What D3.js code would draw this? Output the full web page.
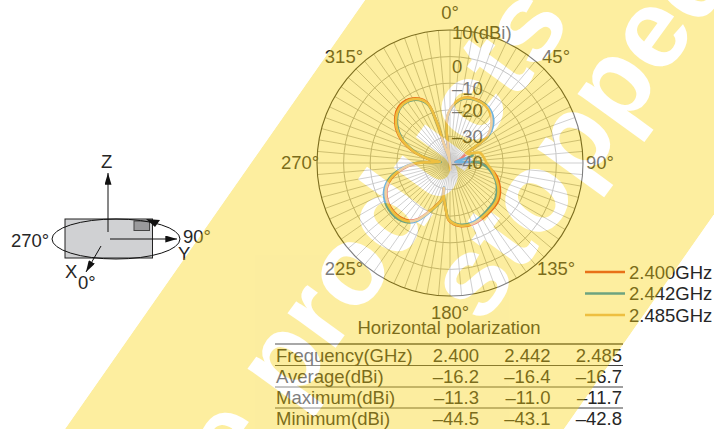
<!DOCTYPE html>
<html>
<head>
<meta charset="utf-8">
<script src="https://cdnjs.cloudflare.com/ajax/libs/d3/7.8.5/d3.min.js"></script>
<style>
	body { margin: 0; background: #fff; }
	svg { display: block; font-family: "Liberation Sans", sans-serif; }
	text { fill: #262626; font-size: 18.5px; }
</style>
</head>
<body>
<div id="chart"></div>
<script>
//Data: angle in degrees (clockwise from top), gain in dBi
var angles   = [178, 354, 354, 358, 5, 12, 23, 34, 45, 54, 57, 60, 71, 80, 90, 103, 116, 128, 144, 159, 171, 181, 186, 192, 194, 192, 200, 210, 217, 229, 243, 253, 262, 270, 272, 276, 280, 288, 298, 309, 319, 330, 339, 342, 342, 350];
var gain2400 = [-38, -34.2, -27.8, -21.5, -17.4, -15.0, -14.2, -14.8, -17.6, -22.2, -27.4, -33, -36, -38, -28.6, -22.8, -19.2, -17.0, -16.2, -15.5, -16.0, -18.4, -23.4, -28.0, -30.2, -26.4, -22.2, -15.6, -13.1, -12.0, -13.2, -16.1, -21.4, -27.8, -33.5, -36, -32.0, -25.2, -18.3, -13.5, -11.3, -12.0, -15.5, -23.3, -32, -38.6];
var gain2442 = [-38, -34, -27.6, -21.6, -17.5, -15.2, -14.4, -14.5, -17.0, -21.8, -27.6, -31.5, -31, -38, -28.6, -23.8, -20.4, -18.3, -17.2, -16.1, -16.5, -18.8, -23.7, -28.5, -30.6, -26.0, -21.7, -14.8, -12.2, -11.0, -12.2, -15.2, -20.6, -27.2, -33.6, -36.5, -32.6, -26.0, -19.2, -14.3, -12.0, -12.6, -16.2, -24.0, -32.4, -38.6];
var gain2485 = [-37.5, -33.9, -27.5, -21.3, -17.2, -14.9, -14.3, -14.9, -17.9, -22.5, -27.8, -33.1, -28.1, -27.2, -26.2, -23.2, -19.8, -17.6, -16.6, -15.7, -16.2, -18.6, -23.5, -28.3, -30.4, -26.2, -22.0, -15.3, -12.7, -11.7, -12.9, -15.8, -21.1, -27.5, -33.7, -36.2, -32.4, -25.6, -18.7, -13.9, -11.8, -12.3, -15.8, -23.6, -32.1, -38.6];

var seriesNames = ["2.400GHz", "2.442GHz", "2.485GHz"];
var seriesColors = ["#dd2f1e", "#0f83cb", "#e6b161"];

var ringValues = [10, 0, -10, -20, -30];
var ringLabels = ["10(dBi)", "0", "–10", "–20", "–30", "–40"];
var ringBaselines = [39, 73, 95, 117, 143, 169];
var angleLabels = [0, 45, 90, 135, 180, 225, 270, 315];

var tableHead = ["Frequency(GHz)", "2.400", "2.442", "2.485"];
var tableRows = ["Average(dBi)", "Maximum(dBi)", "Minimum(dBi)"];
var tableAverage = ["–16.2", "–16.4", "–16.7"];
var tableMaximum = ["–11.3", "–11.0", "–11.7"];
var tableMinimum = ["–44.5", "–43.1", "–42.8"];

//General use variables
var w = 714,
	h = 429,
	center = {x: 450, y: 163},
	radius = 133;

var svg = d3.select("#chart").append("svg")
	.attr("width", w)
	.attr("height", h);

var rScale = d3.scaleLinear().domain([-40, 10]).range([0, radius]);
var toRad = function(a) { return a * Math.PI / 180; };

//Polar plot
var polar = svg.append("g")
	.attr("transform", "translate(" + center.x + "," + center.y + ")");

//Spokes every 5 degrees
polar.selectAll(".spoke")
	.data(d3.range(0, 360, 5))
	.enter().append("line")
		.attr("class", "spoke")
		.attr("x2", function(d) { return radius * Math.sin(toRad(d)); })
		.attr("y2", function(d) { return -radius * Math.cos(toRad(d)); })
		.attr("stroke", "#a8a8a8")
		.attr("stroke-width", 0.9);

//Rings
polar.selectAll(".ring")
	.data(ringValues)
	.enter().append("circle")
		.attr("class", "ring")
		.attr("r", function(d) { return rScale(d); })
		.attr("fill", "none")
		.attr("stroke", function(d) { return d == 10 ? "#2a2a2a" : "#a0a0a0"; })
		.attr("stroke-width", function(d) { return d == 10 ? 1.1 : 1; });

//Gain curves
var gainLine = d3.lineRadial()
	.angle(function(d) { return toRad(d[0]); })
	.radius(function(d) { return rScale(d[1]); })
	.curve(d3.curveCatmullRomClosed.alpha(0.5));

[gain2400, gain2442, gain2485].forEach(function(gain, i) {
	polar.append("path")
		.datum(d3.zip(angles, gain))
		.attr("d", gainLine)
		.attr("fill", "none")
		.attr("stroke", seriesColors[i])
		.attr("stroke-width", 2.6)
		.attr("stroke-linejoin", "round");
});

//Angle labels
polar.selectAll(".angle-label")
	.data(angleLabels)
	.enter().append("text")
		.attr("class", "angle-label")
		.attr("text-anchor", "middle")
		.attr("x", function(d) { return 150 * Math.sin(toRad(d)); })
		.attr("y", function(d) { return -150 * Math.cos(toRad(d)) + 6; })
		.text(function(d) { return d + "°"; });

//Ring labels
svg.selectAll(".ring-label")
	.data(ringLabels)
	.enter().append("text")
		.attr("class", "ring-label")
		.attr("x", 452)
		.attr("y", function(d, i) { return ringBaselines[i]; })
		.text(function(d) { return d; });

//Legend
var legend = svg.selectAll(".legend")
	.data(seriesNames)
	.enter().append("g")
		.attr("class", "legend")
		.attr("transform", function(d, i) { return "translate(585," + (272 + i * 21.5) + ")"; });

legend.append("line")
	.attr("x2", 40)
	.attr("stroke-width", 2.4)
	.attr("stroke", function(d, i) { return seriesColors[i]; });

legend.append("text")
	.attr("x", 44)
	.attr("y", 6.5)
	.text(function(d) { return d; });

svg.append("text")
	.attr("x", 449)
	.attr("y", 334)
	.attr("text-anchor", "middle")
	.text("Horizontal polarization");

//Table
var rowY = d3.scalePoint().domain([tableHead[0]].concat(tableRows)).range([362, 425]);
var colX = d3.scalePoint().domain(tableHead.slice(1)).range([479, 622]);
var rowCells = [tableHead.slice(1), tableAverage, tableMaximum, tableMinimum];

rowY.domain().forEach(function(name, i) {
	svg.append("text")
		.attr("x", 276)
		.attr("y", rowY(name))
		.text(name);

	svg.selectAll(".cell-" + i)
		.data(rowCells[i])
		.enter().append("text")
			.attr("class", "cell-" + i)
			.attr("text-anchor", "end")
			.attr("x", function(d, j) { return colX(tableHead[j + 1]); })
			.attr("y", rowY(name))
			.text(function(d) { return d; });
});

svg.append("line").attr("x1", 275).attr("x2", 623).attr("y1", 344).attr("y2", 344)
	.attr("stroke", "#6e6e6e").attr("stroke-width", 1.8);

[365.5, 387, 408].forEach(function(y) {
	svg.append("line").attr("x1", 275).attr("x2", 623).attr("y1", y).attr("y2", y)
		.attr("stroke", "#2a2a2a").attr("stroke-width", 0.9);
});

//Axis sketch on the left
var sketch = svg.append("g");

var defs = svg.append("defs");
defs.append("marker")
	.attr("id", "arrow")
	.attr("viewBox", "0 0 10 6")
	.attr("refX", 10).attr("refY", 3)
	.attr("markerUnits", "userSpaceOnUse")
	.attr("markerWidth", 12).attr("markerHeight", 7)
	.attr("orient", "auto")
	.append("path").attr("d", "M0,0L10,3L0,6Z").attr("fill", "#111");

sketch.append("rect")
	.attr("x", 65).attr("y", 219).attr("width", 87.5).attr("height", 39)
	.attr("fill", "#d0d1d3").attr("stroke", "#222").attr("stroke-width", 1);

sketch.append("rect")
	.attr("x", 134).attr("y", 221).attr("width", 15.5).attr("height", 9.5)
	.attr("fill", "#9a9a9c").attr("stroke", "#444").attr("stroke-width", 1);

sketch.append("ellipse")
	.attr("cx", 116).attr("cy", 239).attr("rx", 64).attr("ry", 20)
	.attr("fill", "none").attr("stroke", "#111").attr("stroke-width", 1);

sketch.append("path")
	.attr("d", "M146,219L160,220L155,227Z")
	.attr("fill", "#111");

[[108, 232, 108, 173], [110, 239, 177, 239], [101, 246, 86, 272]].forEach(function(a) {
	sketch.append("line")
		.attr("x1", a[0]).attr("y1", a[1]).attr("x2", a[2]).attr("y2", a[3])
		.attr("stroke", "#111").attr("stroke-width", 1)
		.attr("marker-end", "url(#arrow)");
});

var sketchLabels = [["Z", 101, 168], ["270°", 11, 247], ["90°", 183, 243], ["Y", 178, 260], ["X", 65, 278], ["0°", 78, 289]];
sketch.selectAll(".sketch-label")
	.data(sketchLabels)
	.enter().append("text")
		.attr("class", "sketch-label")
		.attr("x", function(d) { return d[1]; })
		.attr("y", function(d) { return d[2]; })
		.text(function(d) { return d[0]; });

//Yellow banner laid over everything, with the letters knocked out in white
var bandPath = "M365,0L864,0L564,429L65,429Z";

defs.append("clipPath").attr("id", "band-clip")
	.append("path").attr("d", bandPath);

var banner = svg.append("g")
	.attr("clip-path", "url(#band-clip)")
	.attr("opacity", 0.4);

banner.append("path")
	.attr("d", bandPath)
	.attr("fill", "#fad411");

[["e products", 236, 485], ["stopped", 482, 326]].forEach(function(t) {
	banner.append("text")
		.attr("transform", "translate(" + t[1] + "," + t[2] + ") rotate(-54)")
		.style("font-size", "112px")
		.style("font-weight", "bold")
		.style("fill", "#fff")
		.text(t[0]);
});
</script>
</body>
</html>
